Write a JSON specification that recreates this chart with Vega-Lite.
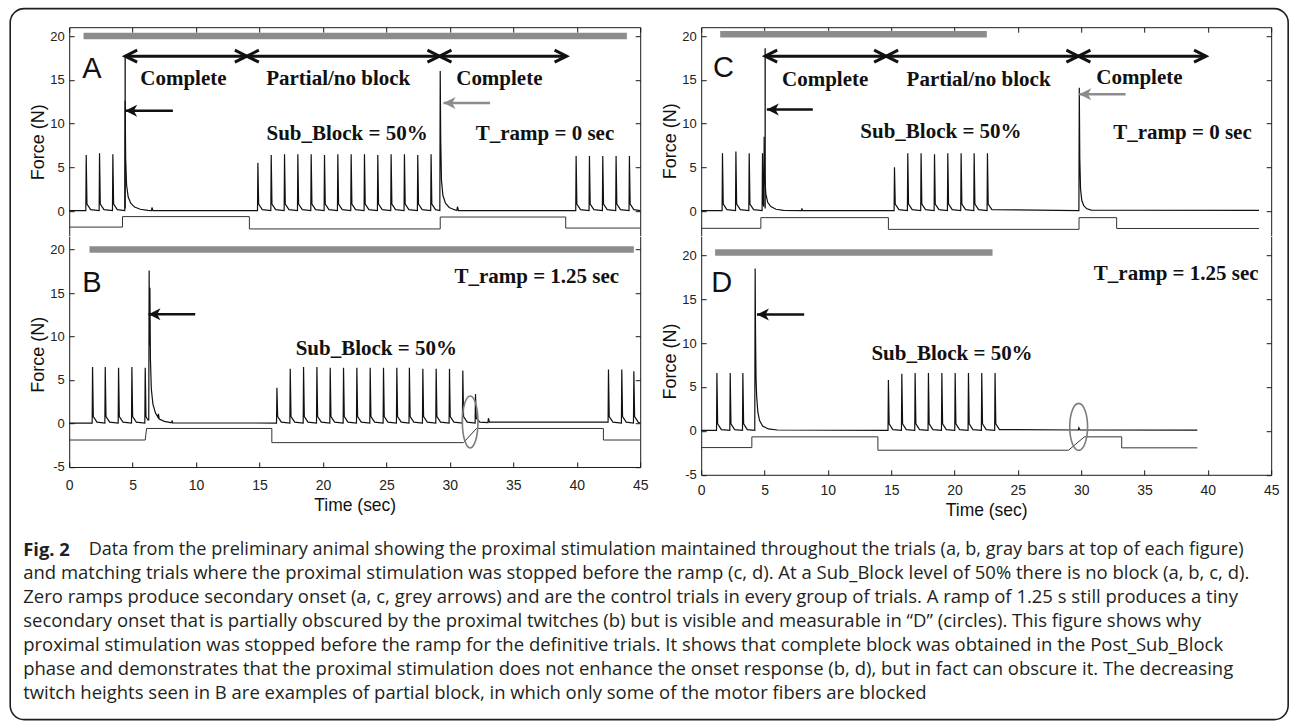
{
  "$schema": "https://vega.github.io/schema/vega-lite/v6.json",
  "background": "white",
  "padding": {"left": 9.2, "top": 7.2, "right": 0, "bottom": 0},
  "columns": 2,
  "bounds": "flush",
  "spacing": {"row": 0, "column": 61},
  "config": {
    "view": {"stroke": null},
    "axis": {
      "grid": false, "domainColor": "#1a1a1a", "domainWidth": 1, "tickColor": "#1a1a1a", "tickWidth": 1, "tickSize": -5,
      "labelFont": "Liberation Sans Narrow, Arial Narrow, Liberation Sans, sans-serif", "labelFontSize": 13, "labelColor": "#222222",
      "labelPadding": 10, "labelFlush": false, "labelOverlap": false,
      "titleFont": "Liberation Sans", "titleFontWeight": "normal", "titleColor": "#111111", "titleFontSize": 17.5
    },
    "axisLeft": {"titlePadding": 4, "minExtent": 18, "maxExtent": 18, "titleFontSize": 18},
    "axisBottom": {"labelFontSize": 14, "labelPadding": 17, "titlePadding": 11, "minExtent": 19, "maxExtent": 19}
  },
  "datasets": {
    "forceA": [
      {"t":0,"f":0.05},
      {"t":1.31,"f":0.05},{"t":1.34,"f":6.4},{"t":1.40,"f":0.8},{"t":1.69,"f":0.15},
      {"t":2.36,"f":0.05},{"t":2.39,"f":6.6},{"t":2.45,"f":0.8},{"t":2.74,"f":0.15},
      {"t":3.41,"f":0.05},{"t":3.44,"f":6.5},{"t":3.50,"f":0.8},{"t":3.79,"f":0.15},
      {"t":4.38,"f":0.05},{"t":4.41,"f":12.6},{"t":4.45,"f":6.0},{"t":4.52,"f":3.0},{"t":4.65,"f":1.6},{"t":4.85,"f":0.9},{"t":5.15,"f":0.45},{"t":5.6,"f":0.2},{"t":6.2,"f":0.08},
      {"t":6.49,"f":0.05},{"t":6.52,"f":0.4},{"t":6.6,"f":0.05},
      {"t":14.84,"f":0.05},{"t":14.87,"f":5.5},{"t":14.93,"f":0.8},{"t":15.22,"f":0.15},
      {"t":15.89,"f":0.05},{"t":15.92,"f":6.4},{"t":15.98,"f":0.8},{"t":16.27,"f":0.15},
      {"t":16.94,"f":0.05},{"t":16.97,"f":6.5},{"t":17.03,"f":0.8},{"t":17.32,"f":0.15},
      {"t":17.99,"f":0.05},{"t":18.02,"f":6.5},{"t":18.08,"f":0.8},{"t":18.37,"f":0.15},
      {"t":19.04,"f":0.05},{"t":19.07,"f":6.5},{"t":19.13,"f":0.8},{"t":19.42,"f":0.15},
      {"t":20.09,"f":0.05},{"t":20.12,"f":6.4},{"t":20.18,"f":0.8},{"t":20.47,"f":0.15},
      {"t":21.14,"f":0.05},{"t":21.17,"f":6.5},{"t":21.23,"f":0.8},{"t":21.52,"f":0.15},
      {"t":22.19,"f":0.05},{"t":22.22,"f":6.5},{"t":22.28,"f":0.8},{"t":22.57,"f":0.15},
      {"t":23.24,"f":0.05},{"t":23.27,"f":6.5},{"t":23.33,"f":0.8},{"t":23.62,"f":0.15},
      {"t":24.29,"f":0.05},{"t":24.32,"f":6.4},{"t":24.38,"f":0.8},{"t":24.67,"f":0.15},
      {"t":25.34,"f":0.05},{"t":25.37,"f":6.5},{"t":25.43,"f":0.8},{"t":25.72,"f":0.15},
      {"t":26.39,"f":0.05},{"t":26.42,"f":6.5},{"t":26.48,"f":0.8},{"t":26.77,"f":0.15},
      {"t":27.44,"f":0.05},{"t":27.47,"f":6.4},{"t":27.53,"f":0.8},{"t":27.82,"f":0.15},
      {"t":28.49,"f":0.05},{"t":28.52,"f":6.5},{"t":28.58,"f":0.8},{"t":28.87,"f":0.15},
      {"t":29.21,"f":0.05},{"t":29.24,"f":16.0},{"t":29.28,"f":8.0},{"t":29.34,"f":3.5},{"t":29.45,"f":1.8},{"t":29.65,"f":0.9},{"t":29.95,"f":0.4},{"t":30.35,"f":0.15},
      {"t":30.55,"f":0.05},{"t":30.6,"f":0.5},{"t":30.68,"f":0.05},
      {"t":39.92,"f":0.05},{"t":39.95,"f":6.3},{"t":40.01,"f":0.8},{"t":40.3,"f":0.15},
      {"t":40.97,"f":0.05},{"t":41.0,"f":6.3},{"t":41.06,"f":0.8},{"t":41.35,"f":0.15},
      {"t":42.02,"f":0.05},{"t":42.05,"f":6.3},{"t":42.11,"f":0.8},{"t":42.4,"f":0.15},
      {"t":43.07,"f":0.05},{"t":43.1,"f":6.3},{"t":43.16,"f":0.8},{"t":43.45,"f":0.15},
      {"t":44.12,"f":0.05},{"t":44.15,"f":6.3},{"t":44.21,"f":0.8},{"t":44.5,"f":0.15},
      {"t":45,"f":0.05}
    ],
    "stimA": [
      {"t":0,"f":-1.84},{"t":4.2,"f":-1.84},{"t":4.2,"f":-0.64},{"t":14.2,"f":-0.64},{"t":14.2,"f":-2.05},
      {"t":29.24,"f":-2.05},{"t":29.24,"f":-0.69},{"t":39.13,"f":-0.69},{"t":39.13,"f":-1.95},{"t":45,"f":-1.95}
    ],
    "forceB": [
      {"t":0,"f":0.05},
      {"t":1.81,"f":0.05},{"t":1.84,"f":6.5},{"t":1.90,"f":0.8},{"t":2.19,"f":0.15},
      {"t":2.81,"f":0.05},{"t":2.84,"f":6.5},{"t":2.90,"f":0.8},{"t":3.19,"f":0.15},
      {"t":3.86,"f":0.05},{"t":3.89,"f":6.4},{"t":3.95,"f":0.8},{"t":4.24,"f":0.15},
      {"t":4.91,"f":0.05},{"t":4.94,"f":6.5},{"t":5.00,"f":0.8},{"t":5.29,"f":0.15},
      {"t":5.96,"f":0.05},{"t":5.99,"f":6.4},{"t":6.05,"f":0.8},{"t":6.2,"f":0.4},
      {"t":6.27,"f":0.4},{"t":6.3,"f":17.6},{"t":6.33,"f":9.0},{"t":6.36,"f":15.6},{"t":6.4,"f":7.5},{"t":6.47,"f":4.0},{"t":6.6,"f":2.2},{"t":6.8,"f":1.2},{"t":7.0,"f":0.7},{"t":7.03,"f":1.1},{"t":7.1,"f":0.5},{"t":7.5,"f":0.25},{"t":8.0,"f":0.1},
      {"t":8.08,"f":0.1},{"t":8.1,"f":0.35},{"t":8.16,"f":0.08},
      {"t":16.34,"f":0.05},{"t":16.37,"f":4.1},{"t":16.43,"f":0.8},{"t":16.72,"f":0.15},
      {"t":17.39,"f":0.05},{"t":17.42,"f":6.3},{"t":17.48,"f":0.8},{"t":17.77,"f":0.15},
      {"t":18.44,"f":0.05},{"t":18.47,"f":6.5},{"t":18.53,"f":0.8},{"t":18.82,"f":0.15},
      {"t":19.49,"f":0.05},{"t":19.52,"f":6.5},{"t":19.58,"f":0.8},{"t":19.87,"f":0.15},
      {"t":20.54,"f":0.05},{"t":20.57,"f":6.4},{"t":20.63,"f":0.8},{"t":20.92,"f":0.15},
      {"t":21.59,"f":0.05},{"t":21.62,"f":6.4},{"t":21.68,"f":0.8},{"t":21.97,"f":0.15},
      {"t":22.64,"f":0.05},{"t":22.67,"f":6.4},{"t":22.73,"f":0.8},{"t":23.02,"f":0.15},
      {"t":23.69,"f":0.05},{"t":23.72,"f":6.4},{"t":23.78,"f":0.8},{"t":24.07,"f":0.15},
      {"t":24.74,"f":0.05},{"t":24.77,"f":6.4},{"t":24.83,"f":0.8},{"t":25.12,"f":0.15},
      {"t":25.79,"f":0.05},{"t":25.82,"f":6.4},{"t":25.88,"f":0.8},{"t":26.17,"f":0.15},
      {"t":26.78,"f":0.05},{"t":26.81,"f":6.4},{"t":26.87,"f":0.8},{"t":27.16,"f":0.15},
      {"t":27.84,"f":0.05},{"t":27.87,"f":6.3},{"t":27.93,"f":0.8},{"t":28.22,"f":0.15},
      {"t":28.89,"f":0.05},{"t":28.92,"f":6.3},{"t":28.98,"f":0.8},{"t":29.27,"f":0.15},
      {"t":29.94,"f":0.05},{"t":29.97,"f":6.3},{"t":30.03,"f":0.8},{"t":30.32,"f":0.15},
      {"t":30.99,"f":0.05},{"t":31.02,"f":6.1},{"t":31.08,"f":0.8},{"t":31.37,"f":0.15},
      {"t":31.99,"f":0.05},{"t":32.02,"f":3.4},{"t":32.08,"f":0.6},{"t":32.37,"f":0.15},
      {"t":33.0,"f":0.1},{"t":33.04,"f":0.6},{"t":33.12,"f":0.15},
      {"t":42.47,"f":0.15},{"t":42.5,"f":6.2},{"t":42.56,"f":0.8},{"t":42.85,"f":0.15},
      {"t":43.52,"f":0.05},{"t":43.55,"f":6.2},{"t":43.61,"f":0.8},{"t":43.9,"f":0.15},
      {"t":44.47,"f":0.05},{"t":44.5,"f":6.0},{"t":44.56,"f":0.8},{"t":44.85,"f":0.15},
      {"t":45,"f":0.05}
    ],
    "stimB": [
      {"t":0,"f":-1.9},{"t":5.99,"f":-1.9},{"t":6.1,"f":-0.57},{"t":15.97,"f":-0.57},{"t":15.97,"f":-2.2},
      {"t":31.07,"f":-2.2},{"t":32.1,"f":-0.57},{"t":42.1,"f":-0.57},{"t":42.1,"f":-1.9},{"t":45,"f":-1.9}
    ],
    "forceC": [
      {"t":0,"f":0.05},
      {"t":1.65,"f":0.05},{"t":1.68,"f":6.6},{"t":1.74,"f":0.8},{"t":2.03,"f":0.15},
      {"t":2.71,"f":0.05},{"t":2.74,"f":6.8},{"t":2.80,"f":0.8},{"t":3.09,"f":0.15},
      {"t":3.76,"f":0.05},{"t":3.79,"f":6.6},{"t":3.85,"f":0.8},{"t":4.14,"f":0.15},
      {"t":4.81,"f":0.05},{"t":4.84,"f":6.6},{"t":4.90,"f":0.8},
      {"t":4.95,"f":0.5},{"t":4.97,"f":8.5},{"t":5.02,"f":4.0},{"t":5.1,"f":2.0},{"t":5.25,"f":1.0},{"t":5.5,"f":0.5},{"t":5.9,"f":0.2},{"t":6.5,"f":0.08},
      {"t":7.92,"f":0.05},{"t":7.95,"f":0.3},{"t":8.0,"f":0.05},
      {"t":15.23,"f":0.05},{"t":15.26,"f":5.0},{"t":15.32,"f":0.8},{"t":15.61,"f":0.15},
      {"t":16.28,"f":0.05},{"t":16.31,"f":6.6},{"t":16.37,"f":0.8},{"t":16.66,"f":0.15},
      {"t":17.33,"f":0.05},{"t":17.36,"f":6.6},{"t":17.42,"f":0.8},{"t":17.71,"f":0.15},
      {"t":18.39,"f":0.05},{"t":18.42,"f":6.5},{"t":18.48,"f":0.8},{"t":18.77,"f":0.15},
      {"t":19.44,"f":0.05},{"t":19.47,"f":6.6},{"t":19.53,"f":0.8},{"t":19.82,"f":0.15},
      {"t":20.49,"f":0.05},{"t":20.52,"f":6.6},{"t":20.58,"f":0.8},{"t":20.87,"f":0.15},
      {"t":21.52,"f":0.05},{"t":21.55,"f":6.6},{"t":21.61,"f":0.8},{"t":21.9,"f":0.15},
      {"t":22.57,"f":0.05},{"t":22.6,"f":6.6},{"t":22.66,"f":0.8},{"t":22.95,"f":0.15},
      {"t":29.82,"f":0.05},{"t":29.85,"f":14.1},{"t":29.89,"f":6.0},{"t":29.95,"f":2.5},{"t":30.05,"f":1.2},{"t":30.2,"f":0.6},{"t":30.45,"f":0.25},{"t":30.8,"f":0.1},
      {"t":44.04,"f":0.08}
    ],
    "stimC": [
      {"t":0,"f":-1.98},{"t":4.71,"f":-1.98},{"t":4.71,"f":-0.76},{"t":14.78,"f":-0.76},{"t":14.78,"f":-2.1},
      {"t":29.83,"f":-2.1},{"t":29.83,"f":-0.76},{"t":32.8,"f":-0.76},{"t":32.8,"f":-2.0},{"t":44.04,"f":-2.0}
    ],
    "forceD": [
      {"t":0,"f":0.05},
      {"t":1.21,"f":0.05},{"t":1.24,"f":6.6},{"t":1.30,"f":0.8},{"t":1.59,"f":0.15},
      {"t":2.26,"f":0.05},{"t":2.29,"f":6.6},{"t":2.35,"f":0.8},{"t":2.64,"f":0.15},
      {"t":3.26,"f":0.05},{"t":3.29,"f":6.6},{"t":3.35,"f":0.8},{"t":3.64,"f":0.15},
      {"t":4.23,"f":0.05},{"t":4.26,"f":18.5},{"t":4.29,"f":11.0},{"t":4.33,"f":6.0},{"t":4.38,"f":3.9},{"t":4.47,"f":2.2},{"t":4.6,"f":1.2},{"t":4.85,"f":0.55},{"t":5.3,"f":0.22},{"t":6.0,"f":0.1},
      {"t":14.75,"f":0.05},{"t":14.78,"f":5.8},{"t":14.84,"f":0.8},{"t":15.13,"f":0.15},
      {"t":15.81,"f":0.05},{"t":15.84,"f":6.5},{"t":15.90,"f":0.8},{"t":16.19,"f":0.15},
      {"t":16.86,"f":0.05},{"t":16.89,"f":6.6},{"t":16.95,"f":0.8},{"t":17.24,"f":0.15},
      {"t":17.91,"f":0.05},{"t":17.94,"f":6.6},{"t":18.0,"f":0.8},{"t":18.29,"f":0.15},
      {"t":18.97,"f":0.05},{"t":19.0,"f":6.6},{"t":19.06,"f":0.8},{"t":19.35,"f":0.15},
      {"t":20.02,"f":0.05},{"t":20.05,"f":6.6},{"t":20.11,"f":0.8},{"t":20.4,"f":0.15},
      {"t":21.07,"f":0.05},{"t":21.1,"f":6.6},{"t":21.16,"f":0.8},{"t":21.45,"f":0.15},
      {"t":22.12,"f":0.05},{"t":22.15,"f":6.6},{"t":22.21,"f":0.8},{"t":22.5,"f":0.15},
      {"t":23.17,"f":0.05},{"t":23.2,"f":6.6},{"t":23.26,"f":0.8},{"t":23.55,"f":0.15},
      {"t":29.78,"f":0.1},{"t":29.82,"f":0.35},{"t":29.9,"f":0.1},
      {"t":39.17,"f":0.08}
    ],
    "stimD": [
      {"t":0,"f":-1.9},{"t":4.0,"f":-1.9},{"t":4.0,"f":-0.68},{"t":13.95,"f":-0.68},{"t":13.95,"f":-2.2},
      {"t":29.0,"f":-2.2},{"t":30.25,"f":-0.68},{"t":33.2,"f":-0.68},{"t":33.2,"f":-1.93},{"t":39.17,"f":-1.93}
    ],
    "caption": [
      {"line":2,"text":"and matching trials where the proximal stimulation was stopped before the ramp (c, d). At a Sub_Block level of 50% there is no block (a, b, c, d)."},
      {"line":3,"text":"Zero ramps produce secondary onset (a, c, grey arrows) and are the control trials in every group of trials. A ramp of 1.25 s still produces a tiny"},
      {"line":4,"text":"secondary onset that is partially obscured by the proximal twitches (b) but is visible and measurable in “D” (circles). This figure shows why"},
      {"line":5,"text":"proximal stimulation was stopped before the ramp for the definitive trials. It shows that complete block was obtained in the Post_Sub_Block"},
      {"line":6,"text":"phase and demonstrates that the proximal stimulation does not enhance the onset response (b, d), but in fact can obscure it. The decreasing"},
      {"line":7,"text":"twitch heights seen in B are examples of partial block, in which only some of the motor fibers are blocked"}
    ]
  },
  "concat": [
    {
      "width": 571, "height": 208.3,
      "resolve": {"axis": {"x": "independent", "y": "independent"}},
      "layer": [
        {"data": {"name": "forceA"}, "mark": {"type": "line", "color": "#111111", "strokeWidth": 1.2},
         "encoding": {
           "x": {"field": "t", "type": "quantitative", "scale": {"domain": [0, 45], "nice": false, "zero": false},
                 "axis": {"orient": "top", "values": [0,5,10,15,20,25,30,35,40,45], "labels": false, "title": null}},
           "y": {"field": "f", "type": "quantitative", "scale": {"domain": [-2.8, 21.01], "nice": false, "zero": false},
                 "axis": {"orient": "left", "values": [0,5,10,15,20], "title": "Force (N)", "titleY": 114.5}}}},
        {"data": {"name": "stimA"}, "mark": {"type": "line", "color": "#333333", "strokeWidth": 1},
         "encoding": {
           "x": {"field": "t", "type": "quantitative", "axis": null},
           "y": {"field": "f", "type": "quantitative", "axis": {"orient": "right", "values": [0,5,10,15,20], "labels": false, "title": null}}}},
        {"data": {"values": [{"t0": 1.13, "t1": 43.95, "f": 20}]}, "mark": {"type": "rule", "color": "#8c8c8c", "strokeWidth": 6.5},
         "encoding": {"x": {"field": "t0", "type": "quantitative", "axis": null}, "x2": {"field": "t1"}, "y": {"field": "f", "type": "quantitative", "axis": null}}},
        {"data": {"values": [{"t": 4.41, "f0": 0.3, "f1": 17.7}]}, "mark": {"type": "rule", "color": "#111111", "strokeWidth": 1.3},
         "encoding": {"x": {"field": "t", "type": "quantitative", "axis": null}, "y": {"field": "f0", "type": "quantitative", "axis": null}, "y2": {"field": "f1"}}},
        {"data": {"values": [{"t1": 4.41, "t2": 14.0, "f": 17.7}, {"t1": 14.0, "t2": 29.18, "f": 17.7}, {"t1": 29.18, "t2": 39.2, "f": 17.7}]},
         "mark": {"type": "rule", "color": "#111111", "strokeWidth": 3},
         "encoding": {"x": {"field": "t1", "type": "quantitative", "axis": null}, "x2": {"field": "t2"}, "y": {"field": "f", "type": "quantitative", "axis": null}}},
        {"data": {"values": [{"t": 4.41, "f": 17.7, "dir": "left"}, {"t": 14.0, "f": 17.7, "dir": "right"}, {"t": 14.0, "f": 17.7, "dir": "left"}, {"t": 29.18, "f": 17.7, "dir": "right"}, {"t": 29.18, "f": 17.7, "dir": "left"}, {"t": 39.2, "f": 17.7, "dir": "right"}]},
         "mark": {"type": "point", "filled": false, "size": 144, "strokeWidth": 3, "opacity": 1, "color": "#111111"},
         "encoding": {"x": {"field": "t", "type": "quantitative", "axis": null}, "y": {"field": "f", "type": "quantitative", "axis": null},
           "shape": {"field": "dir", "type": "nominal", "scale": {"domain": ["left", "right"], "range": ["M2,-1L0,0L2,1", "M-2,-1L0,0L-2,1"]}, "legend": null}}},
        {"data": {"values": [{"tip": 4.41, "tail": 8.17, "f": 11.45, "tone": "black"}, {"tip": 29.5, "tail": 33.17, "f": 12.34, "tone": "gray"}]},
         "layer": [
           {"mark": {"type": "rule", "strokeWidth": 2.5},
            "encoding": {"x": {"field": "tip", "type": "quantitative", "axis": null}, "x2": {"field": "tail"}, "y": {"field": "f", "type": "quantitative", "axis": null},
              "color": {"field": "tone", "type": "nominal", "scale": {"domain": ["black", "gray"], "range": ["#111111", "#8c8c8c"]}, "legend": null}}},
           {"mark": {"type": "point", "filled": true, "size": 119, "opacity": 1, "shape": "M0,0L2.2,-1.1L1.6,0L2.2,1.1Z"},
            "encoding": {"x": {"field": "tip", "type": "quantitative", "axis": null}, "y": {"field": "f", "type": "quantitative", "axis": null},
              "color": {"field": "tone", "type": "nominal", "scale": {"domain": ["black", "gray"], "range": ["#111111", "#8c8c8c"]}, "legend": null}}}
         ]},
        {"data": {"values": [{"t": 9.0, "f": 15.05, "text": "Complete"}, {"t": 21.2, "f": 15.05, "text": "Partial/no block"}, {"t": 33.9, "f": 15.1, "text": "Complete"}, {"t": 21.9, "f": 8.8, "text": "Sub_Block = 50%"}, {"t": 37.5, "f": 8.8, "text": "T_ramp = 0 sec"}]},
         "mark": {"type": "text", "font": "Liberation Serif", "fontWeight": "bold", "fontSize": 21, "align": "center", "baseline": "middle", "color": "#111111"},
         "encoding": {"x": {"field": "t", "type": "quantitative", "axis": null}, "y": {"field": "f", "type": "quantitative", "axis": null}, "text": {"field": "text"}}},
        {"data": {"values": [{"t": 1.79, "f": 16.2, "text": "A"}]},
         "mark": {"type": "text", "font": "Liberation Sans", "fontSize": 29, "align": "center", "baseline": "middle", "color": "#111111"},
         "encoding": {"x": {"field": "t", "type": "quantitative", "axis": null}, "y": {"field": "f", "type": "quantitative", "axis": null}, "text": {"field": "text"}}}
      ]
    },
    {
      "width": 570, "height": 208.3,
      "resolve": {"axis": {"x": "independent", "y": "independent"}},
      "layer": [
        {"data": {"name": "forceC"}, "mark": {"type": "line", "color": "#111111", "strokeWidth": 1.2},
         "encoding": {
           "x": {"field": "t", "type": "quantitative", "scale": {"domain": [0, 45], "nice": false, "zero": false},
                 "axis": {"orient": "top", "values": [0,5,10,15,20,25,30,35,40,45], "labels": false, "title": null}},
           "y": {"field": "f", "type": "quantitative", "scale": {"domain": [-2.8, 21.01], "nice": false, "zero": false},
                 "axis": {"orient": "left", "values": [0,5,10,15,20], "title": "Force (N)", "titleY": 113.5}}}},
        {"data": {"name": "stimC"}, "mark": {"type": "line", "color": "#333333", "strokeWidth": 1},
         "encoding": {
           "x": {"field": "t", "type": "quantitative", "axis": null},
           "y": {"field": "f", "type": "quantitative", "axis": {"orient": "right", "values": [0,5,10,15,20], "labels": false, "title": null}}}},
        {"data": {"values": [{"t0": 1.5, "t1": 22.55, "f": 20.2}]}, "mark": {"type": "rule", "color": "#8c8c8c", "strokeWidth": 6.5},
         "encoding": {"x": {"field": "t0", "type": "quantitative", "axis": null}, "x2": {"field": "t1"}, "y": {"field": "f", "type": "quantitative", "axis": null}}},
        {"data": {"values": [{"t": 5.05, "f0": 0.3, "f1": 18.6}]}, "mark": {"type": "rule", "color": "#111111", "strokeWidth": 1.3},
         "encoding": {"x": {"field": "t", "type": "quantitative", "axis": null}, "y": {"field": "f0", "type": "quantitative", "axis": null}, "y2": {"field": "f1"}}},
        {"data": {"values": [{"t1": 5.05, "t2": 14.6, "f": 17.7}, {"t1": 14.6, "t2": 29.78, "f": 17.7}, {"t1": 29.78, "t2": 39.86, "f": 17.7}]},
         "mark": {"type": "rule", "color": "#111111", "strokeWidth": 3},
         "encoding": {"x": {"field": "t1", "type": "quantitative", "axis": null}, "x2": {"field": "t2"}, "y": {"field": "f", "type": "quantitative", "axis": null}}},
        {"data": {"values": [{"t": 5.05, "f": 17.7, "dir": "left"}, {"t": 14.6, "f": 17.7, "dir": "right"}, {"t": 14.6, "f": 17.7, "dir": "left"}, {"t": 29.78, "f": 17.7, "dir": "right"}, {"t": 29.78, "f": 17.7, "dir": "left"}, {"t": 39.86, "f": 17.7, "dir": "right"}]},
         "mark": {"type": "point", "filled": false, "size": 144, "strokeWidth": 3, "opacity": 1, "color": "#111111"},
         "encoding": {"x": {"field": "t", "type": "quantitative", "axis": null}, "y": {"field": "f", "type": "quantitative", "axis": null},
           "shape": {"field": "dir", "type": "nominal", "scale": {"domain": ["left", "right"], "range": ["M2,-1L0,0L2,1", "M-2,-1L0,0L-2,1"]}, "legend": null}}},
        {"data": {"values": [{"tip": 5.18, "tail": 8.81, "f": 11.6, "tone": "black"}, {"tip": 29.85, "tail": 33.5, "f": 13.35, "tone": "gray"}]},
         "layer": [
           {"mark": {"type": "rule", "strokeWidth": 2.5},
            "encoding": {"x": {"field": "tip", "type": "quantitative", "axis": null}, "x2": {"field": "tail"}, "y": {"field": "f", "type": "quantitative", "axis": null},
              "color": {"field": "tone", "type": "nominal", "scale": {"domain": ["black", "gray"], "range": ["#111111", "#8c8c8c"]}, "legend": null}}},
           {"mark": {"type": "point", "filled": true, "size": 119, "opacity": 1, "shape": "M0,0L2.2,-1.1L1.6,0L2.2,1.1Z"},
            "encoding": {"x": {"field": "tip", "type": "quantitative", "axis": null}, "y": {"field": "f", "type": "quantitative", "axis": null},
              "color": {"field": "tone", "type": "nominal", "scale": {"domain": ["black", "gray"], "range": ["#111111", "#8c8c8c"]}, "legend": null}}}
         ]},
        {"data": {"values": [{"t": 9.79, "f": 14.95, "text": "Complete"}, {"t": 21.9, "f": 14.95, "text": "Partial/no block"}, {"t": 34.6, "f": 15.15, "text": "Complete"}, {"t": 18.93, "f": 9.05, "text": "Sub_Block = 50%"}, {"t": 38.0, "f": 8.86, "text": "T_ramp = 0 sec"}]},
         "mark": {"type": "text", "font": "Liberation Serif", "fontWeight": "bold", "fontSize": 21, "align": "center", "baseline": "middle", "color": "#111111"},
         "encoding": {"x": {"field": "t", "type": "quantitative", "axis": null}, "y": {"field": "f", "type": "quantitative", "axis": null}, "text": {"field": "text"}}},
        {"data": {"values": [{"t": 1.76, "f": 16.4, "text": "C"}]},
         "mark": {"type": "text", "font": "Liberation Sans", "fontSize": 29, "align": "center", "baseline": "middle", "color": "#111111"},
         "encoding": {"x": {"field": "t", "type": "quantitative", "axis": null}, "y": {"field": "f", "type": "quantitative", "axis": null}, "text": {"field": "text"}}}
      ]
    },
    {
      "width": 571, "height": 230.8,
      "resolve": {"axis": {"x": "independent", "y": "independent"}},
      "layer": [
        {"data": {"name": "forceB"}, "mark": {"type": "line", "color": "#111111", "strokeWidth": 1.2},
         "encoding": {
           "x": {"field": "t", "type": "quantitative", "scale": {"domain": [0, 45], "nice": false, "zero": false},
                 "axis": {"orient": "bottom", "values": [0,5,10,15,20,25,30,35,40,45], "title": "Time (sec)"}},
           "y": {"field": "f", "type": "quantitative", "scale": {"domain": [-5, 21.53], "nice": false, "zero": false},
                 "axis": {"orient": "left", "values": [-5,0,5,10,15,20], "title": "Force (N)", "titleY": 118, "labelExpr": "'' + datum.value"}}}},
        {"data": {"name": "stimB"}, "mark": {"type": "line", "color": "#333333", "strokeWidth": 1},
         "encoding": {
           "x": {"field": "t", "type": "quantitative", "axis": null},
           "y": {"field": "f", "type": "quantitative", "axis": {"orient": "right", "values": [-5,0,5,10,15,20], "labels": false, "title": null}}}},
        {"data": {"values": [{"t0": 1.6, "t1": 44.5, "f": 20}]}, "mark": {"type": "rule", "color": "#8c8c8c", "strokeWidth": 6.5},
         "encoding": {"x": {"field": "t0", "type": "quantitative", "axis": null}, "x2": {"field": "t1"}, "y": {"field": "f", "type": "quantitative", "axis": null}}},
        {"data": {"values": [{"tip": 6.25, "tail": 9.93, "f": 12.56}]},
         "layer": [
           {"mark": {"type": "rule", "strokeWidth": 2.5, "color": "#111111"},
            "encoding": {"x": {"field": "tip", "type": "quantitative", "axis": null}, "x2": {"field": "tail"}, "y": {"field": "f", "type": "quantitative", "axis": null}}},
           {"mark": {"type": "point", "filled": true, "size": 119, "opacity": 1, "color": "#111111", "shape": "M0,0L2.2,-1.1L1.6,0L2.2,1.1Z"},
            "encoding": {"x": {"field": "tip", "type": "quantitative", "axis": null}, "y": {"field": "f", "type": "quantitative", "axis": null}}}
         ]},
        {"data": {"values": [{"t": 31.6, "f": 0.18}]},
         "mark": {"type": "point", "shape": "M0,-1A0.3,1,0,1,1,0,1A0.3,1,0,1,1,0,-1Z", "size": 2704, "filled": false, "color": "#7d7d7d", "strokeWidth": 1.6, "opacity": 1},
         "encoding": {"x": {"field": "t", "type": "quantitative", "axis": null}, "y": {"field": "f", "type": "quantitative", "axis": null}}},
        {"data": {"values": [{"t": 24.2, "f": 8.6, "text": "Sub_Block = 50%"}, {"t": 36.85, "f": 16.85, "text": "T_ramp = 1.25 sec"}]},
         "mark": {"type": "text", "font": "Liberation Serif", "fontWeight": "bold", "fontSize": 21, "align": "center", "baseline": "middle", "color": "#111111"},
         "encoding": {"x": {"field": "t", "type": "quantitative", "axis": null}, "y": {"field": "f", "type": "quantitative", "axis": null}, "text": {"field": "text"}}},
        {"data": {"values": [{"t": 1.79, "f": 16.1, "text": "B"}]},
         "mark": {"type": "text", "font": "Liberation Sans", "fontSize": 29, "align": "center", "baseline": "middle", "color": "#111111"},
         "encoding": {"x": {"field": "t", "type": "quantitative", "axis": null}, "y": {"field": "f", "type": "quantitative", "axis": null}, "text": {"field": "text"}}}
      ]
    },
    {
      "width": 570, "height": 238.6,
      "resolve": {"axis": {"x": "independent", "y": "independent"}},
      "layer": [
        {"data": {"name": "forceD"}, "mark": {"type": "line", "color": "#111111", "strokeWidth": 1.2},
         "encoding": {
           "x": {"field": "t", "type": "quantitative", "scale": {"domain": [0, 45], "nice": false, "zero": false},
                 "axis": {"orient": "bottom", "values": [0,5,10,15,20,25,30,35,40,45], "title": "Time (sec)", "labelPadding": 14, "titlePadding": 8}},
           "y": {"field": "f", "type": "quantitative", "scale": {"domain": [-5, 22.17], "nice": false, "zero": false},
                 "axis": {"orient": "left", "values": [-5,0,5,10,15,20], "title": "Force (N)", "titleY": 124.8, "labelExpr": "'' + datum.value"}}}},
        {"data": {"name": "stimD"}, "mark": {"type": "line", "color": "#333333", "strokeWidth": 1},
         "encoding": {
           "x": {"field": "t", "type": "quantitative", "axis": null},
           "y": {"field": "f", "type": "quantitative", "axis": {"orient": "right", "values": [-5,0,5,10,15,20], "labels": false, "title": null}}}},
        {"data": {"values": [{"t0": 1.1, "t1": 23.0, "f": 20.3}]}, "mark": {"type": "rule", "color": "#8c8c8c", "strokeWidth": 6.5},
         "encoding": {"x": {"field": "t0", "type": "quantitative", "axis": null}, "x2": {"field": "t1"}, "y": {"field": "f", "type": "quantitative", "axis": null}}},
        {"data": {"values": [{"tip": 4.4, "tail": 8.13, "f": 13.25}]},
         "layer": [
           {"mark": {"type": "rule", "strokeWidth": 2.5, "color": "#111111"},
            "encoding": {"x": {"field": "tip", "type": "quantitative", "axis": null}, "x2": {"field": "tail"}, "y": {"field": "f", "type": "quantitative", "axis": null}}},
           {"mark": {"type": "point", "filled": true, "size": 119, "opacity": 1, "color": "#111111", "shape": "M0,0L2.2,-1.1L1.6,0L2.2,1.1Z"},
            "encoding": {"x": {"field": "tip", "type": "quantitative", "axis": null}, "y": {"field": "f", "type": "quantitative", "axis": null}}}
         ]},
        {"data": {"values": [{"t": 29.8, "f": 0.46}]},
         "mark": {"type": "point", "shape": "M0,-1A0.38,1,0,1,1,0,1A0.38,1,0,1,1,0,-1Z", "size": 2209, "filled": false, "color": "#7d7d7d", "strokeWidth": 1.6, "opacity": 1},
         "encoding": {"x": {"field": "t", "type": "quantitative", "axis": null}, "y": {"field": "f", "type": "quantitative", "axis": null}}},
        {"data": {"values": [{"t": 19.8, "f": 8.8, "text": "Sub_Block = 50%"}, {"t": 37.5, "f": 17.9, "text": "T_ramp = 1.25 sec"}]},
         "mark": {"type": "text", "font": "Liberation Serif", "fontWeight": "bold", "fontSize": 21, "align": "center", "baseline": "middle", "color": "#111111"},
         "encoding": {"x": {"field": "t", "type": "quantitative", "axis": null}, "y": {"field": "f", "type": "quantitative", "axis": null}, "text": {"field": "text"}}},
        {"data": {"values": [{"t": 1.63, "f": 16.8, "text": "D"}]},
         "mark": {"type": "text", "font": "Liberation Sans", "fontSize": 29, "align": "center", "baseline": "middle", "color": "#111111"},
         "encoding": {"x": {"field": "t", "type": "quantitative", "axis": null}, "y": {"field": "f", "type": "quantitative", "axis": null}, "text": {"field": "text"}}}
      ]
    },
    {
      "width": 571, "height": 240,
      "layer": [
        {"data": {"values": [{"part": "frame"}]},
         "mark": {"type": "rect", "filled": false, "color": "#1e1e1e", "strokeWidth": 1.6, "cornerRadius": 14},
         "encoding": {
           "x": {"datum": -0.10333, "type": "quantitative", "scale": {"domain": [0, 1], "nice": false, "zero": false}, "axis": null},
           "x2": {"datum": 2.13485},
           "y": {"datum": -21.702, "type": "quantitative", "scale": {"domain": [-2.122, 7.949], "reverse": true, "nice": false, "zero": false}, "axis": null},
           "y2": {"datum": 8.134}}},
        {"data": {"values": [{"line": 1, "text": "Fig. 2"}]},
         "mark": {"type": "text", "font": "Open Sans", "fontSize": 18.4, "fontWeight": "bold", "align": "left", "baseline": "middle", "dx": -46, "color": "#231f20"},
         "encoding": {"x": {"datum": 0, "type": "quantitative", "axis": null},
           "y": {"field": "line", "type": "quantitative", "axis": null},
           "text": {"field": "text"}}},
        {"data": {"values": [{"line": 1, "text": "Data from the preliminary animal showing the proximal stimulation maintained throughout the trials (a, b, gray bars at top of each figure)"}]},
         "mark": {"type": "text", "font": "Open Sans", "fontSize": 18.1, "align": "left", "baseline": "middle", "dx": 19.5, "color": "#231f20"},
         "encoding": {"x": {"datum": 0, "type": "quantitative", "axis": null}, "y": {"field": "line", "type": "quantitative", "axis": null}, "text": {"field": "text"}}},
        {"data": {"name": "caption"},
         "mark": {"type": "text", "font": "Open Sans", "fontSize": 18.5, "align": "left", "baseline": "middle", "dx": -46, "color": "#231f20"},
         "encoding": {"x": {"datum": 0, "type": "quantitative", "axis": null}, "y": {"field": "line", "type": "quantitative", "axis": null}, "text": {"field": "text"}}}
      ]
    }
  ]
}
